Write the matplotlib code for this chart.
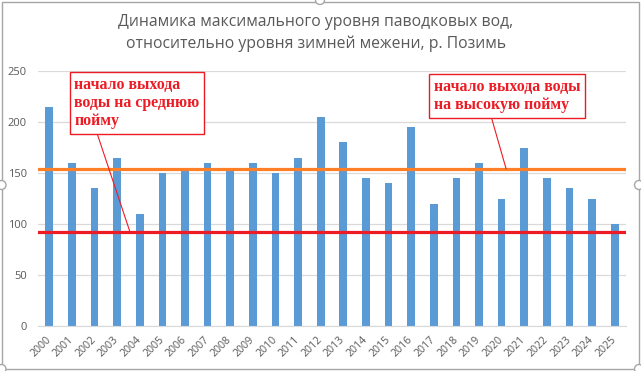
import matplotlib
matplotlib.use("Agg")
import matplotlib.pyplot as plt
from matplotlib.patches import FancyBboxPatch, Circle

years = [str(y) for y in range(2000, 2026)]
levels = [215, 160, 135, 165, 110, 150, 152, 160, 152, 160, 150, 165, 205,
          180, 145, 140, 195, 120, 145, 160, 125, 175, 145, 135, 125, 100]
mid_floodplain = 92
high_floodplain = 154

title = ("Динамика максимального уровня паводковых вод,\n"
         "относительно уровня зимней межени, р. Позимь")
note_mid = "начало выхода\nводы на среднюю\nпойму"
note_high = "начало выхода воды\nна высокую пойму"

bar_color = "#5B9BD5"
orange = "#FF7F27"
red = "#ED1C24"
grid_color = "#D9D9D9"
text_color = "#595959"

fig = plt.figure(figsize=(6.41, 3.71), dpi=100)
ax = fig.add_axes([38 / 641, 1 - 326 / 371, 588 / 641, 255 / 371])

x = range(len(years))
ax.bar(x, levels, width=0.34, color=bar_color, zorder=2)
ax.axhline(high_floodplain, color=orange, lw=2.3, zorder=3)
ax.axhline(mid_floodplain, color=red, lw=2.3, zorder=3)

ax.set_xlim(-0.5, len(years) - 0.5)
ax.set_ylim(0, 250)
ax.set_yticks(range(0, 251, 50))
ax.yaxis.grid(True, color=grid_color, lw=0.9, zorder=0)
ax.set_axisbelow(True)
for side in ("left", "right", "top"):
    ax.spines[side].set_visible(False)
ax.spines["bottom"].set_color(grid_color)
ax.tick_params(length=0, colors=text_color, labelsize=8)
ax.tick_params(axis="y", pad=8)
ax.set_xticks(list(x))
ax.set_xticklabels(years, rotation=45, ha="right", va="center",
                   rotation_mode="anchor", fontsize=7.7)
ax.tick_params(axis="x", pad=9)
for lab in ax.get_yticklabels() + ax.get_xticklabels():
    lab.set_fontfamily("Open Sans")

note_style = dict(fontsize=11.4, color=red, fontweight="bold",
                  family="Liberation Serif", ha="left", va="top",
                  linespacing=1.2, zorder=5,
                  bbox=dict(boxstyle="square,pad=0.3", fc="white",
                            ec=red, lw=1.0))
ax.annotate(note_mid, xy=(3.57, mid_floodplain), xycoords="data",
            xytext=(0.062, 0.978), textcoords="axes fraction",
            arrowprops=dict(arrowstyle="-", color=red, lw=0.8,
                            relpos=(0.17, 0.0), shrinkA=0, shrinkB=0),
            **note_style)
ax.annotate(note_high, xy=(20.2, high_floodplain), xycoords="data",
            xytext=(0.673, 0.970), textcoords="axes fraction",
            arrowprops=dict(arrowstyle="-", color=red, lw=0.8,
                            relpos=(0.385, 0.0), shrinkA=0, shrinkB=0),
            **note_style)

fig.text(316 / 641, 1 - 33 / 371, title, ha="center", va="center",
         fontsize=11.3, color=text_color, family="Open Sans",
         linespacing=1.45)

# chart frame with selection handles
fig.patches.append(FancyBboxPatch((1.5 / 641, 2 / 371), 637 / 641, 367 / 371,
                                  boxstyle="square,pad=0", fill=False,
                                  ec="#A6A6A6", lw=1.0,
                                  transform=fig.transFigure))
for hx, hy in [(320, 0), (1.5, 185), (639, 185), (1.5, 369), (639, 369)]:
    fig.patches.append(Circle((hx, 371 - hy), 4.5, fc="white", ec="#A6A6A6",
                              lw=1.0, transform=None))

fig.savefig("out.png", dpi=100)
